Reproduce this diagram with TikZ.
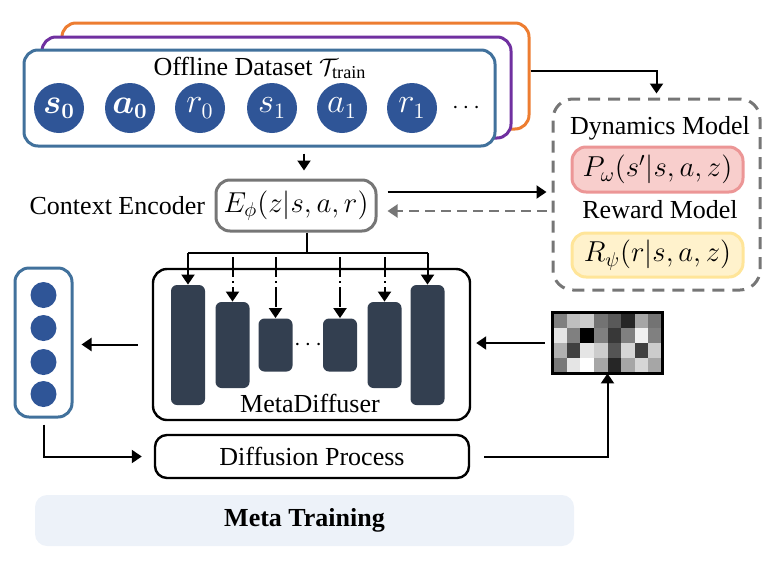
\documentclass[tikz,border=0pt]{standalone}
\usepackage{amsmath,amssymb}
\usepackage{fontspec}
\setmainfont{Liberation Serif}
\usepackage{tikz}
\usetikzlibrary{arrows.meta,positioning,calc}

\definecolor{dsblue}{RGB}{65,113,156}
\definecolor{dspurple}{RGB}{112,48,160}
\definecolor{dsorange}{RGB}{237,125,49}
\definecolor{tokblue}{RGB}{47,85,151}
\definecolor{bardark}{RGB}{51,63,80}
\definecolor{dashgray}{RGB}{118,118,118}
\definecolor{pinkfill}{RGB}{248,206,204}
\definecolor{pinkline}{RGB}{236,150,150}
\definecolor{yellowfill}{RGB}{255,242,204}
\definecolor{yellowline}{RGB}{255,229,153}
\definecolor{metabg}{RGB}{237,242,249}

\tikzset{
  panel/.style={draw, rounded corners=7pt, line width=1.5pt, inner sep=0pt},
  token/.style={circle, fill=tokblue, text=white, minimum size=25pt, inner sep=0pt, font=\fontsize{16pt}{18pt}\selectfont},
  formula/.style={font=\fontsize{14.5pt}{17pt}\selectfont},
  vecdot/.style={circle, fill=tokblue, minimum size=13pt, inner sep=0pt},
  bar/.style={fill=bardark, rounded corners=3pt, minimum width=17pt, inner sep=0pt},
  line/.style={line width=1pt},
  dashdot/.style={line width=1pt, dash pattern=on 10pt off 2pt on 1pt off 2pt},
  >={Triangle[length=5pt,width=6.5pt]}
}

\begin{document}
\begin{tikzpicture}[x=0.5pt,y=-0.5pt,font=\fontsize{13pt}{15pt}\selectfont]
\useasboundingbox (0,0) rectangle (769,562);

% Meta training banner
\node[fill=metabg, rounded corners=6pt, minimum width=269.5pt, minimum height=25.5pt, inner sep=0pt] (meta) at (304.5,520.5) {\textbf{Meta Training}};

% Offline datasets (stacked)
\node[panel, draw=dsorange, fill=white, minimum width=233.5pt, minimum height=53pt] (orange) at (295.5,76) {};
\node[panel, draw=dspurple, fill=white, minimum width=234.5pt, minimum height=50.5pt] (purple) at (276.5,87.5) {};
\node[panel, draw=dsblue, fill=white, minimum width=235.5pt, minimum height=48pt] (ds) at (259.5,98) {};
\node (dstitle) at (260,68) {Offline Dataset $\mathcal{T}_{\text{train}}$};
\foreach \x/\t [count=\i] in {59/{\boldsymbol{s}_{\boldsymbol{0}}}, 130/{\boldsymbol{a}_{\boldsymbol{0}}}, 200/r_0, 272/s_1, 342/a_1, 412/r_1}
    \node[token] (tok\i) at (\x,108) {$\t$};
\node (tokdots) at (468,108) {$\cdots$};

% Context encoder
\node[panel, draw=dashgray, formula, minimum width=80pt, minimum height=25.5pt] (enc) at (296,205.5) {$E_\phi(z|s,a,r)$};
\node[left=4.5pt of enc, inner sep=0pt] (enclabel) {Context Encoder};
\coordinate (dsx) at (304,0);
\draw[line,->,shorten <=3pt,shorten >=4pt] (ds.south -| dsx) -- (enc.north -| dsx);

% Dynamics and reward models
\node[panel, draw=dashgray, dash pattern=on 6pt off 4pt, rounded corners=10pt, minimum width=103.5pt, minimum height=95.5pt] (dyn) at (656.5,194.5) {};
\node (dynlabel) at (660,128) {Dynamics Model};
\node[panel, draw=pinkline, fill=pinkfill, formula, minimum width=85.5pt, minimum height=22.5pt] (pmodel) at (657.5,169.5) {$P_\omega(s'|s,a,z)$};
\node (rewlabel) at (660,210) {Reward Model};
\node[panel, draw=yellowline, fill=yellowfill, formula, minimum width=85.5pt, minimum height=22pt] (rmodel) at (657.5,255) {$R_\psi(r|s,a,z)$};

\draw[line,->,shorten >=2pt] ([yshift=2.5pt]orange.east) -| (dyn.north);
\draw[line,->,shorten <=5pt,shorten >=2.5pt] ([yshift=6.75pt]enc.east) -- ([yshift=6.75pt]enc.east -| dyn.west);
\draw[line,->,draw=dashgray,dash pattern=on 5pt off 3pt,shorten <=2.5pt,shorten >=5pt] ([yshift=-2.75pt]enc.east -| dyn.west) -- ([yshift=-2.75pt]enc.east);

% MetaDiffuser
\node[panel, draw=black, line width=1.2pt, minimum width=158.5pt, minimum height=75.5pt] (md) at (311.5,344.5) {};
\foreach \n/\x/\h in {1/188/120, 2/232.5/86, 3/275.5/53, 4/340/53, 5/384.5/86, 6/427.5/120}
    \node[bar, minimum height=\h*0.5pt] (bar\n) at (\x,345) {};
\node (mddots) at (310,345) {$\cdots$};
\node (mdlabel) at (310,403) {MetaDiffuser};

\coordinate (bus) at (307,253);
\coordinate (busd) at (0,257);
\draw[line] (enc.south -| bus) -- (bus);
\draw[line] (bar1 |- bus) -- (bar6 |- bus);
\foreach \n in {1,6}
    \draw[line,->] (bar\n |- bus) -- (bar\n.north);
\foreach \n in {2,3,4,5}
    \draw[dashdot,->] (bar\n |- busd) -- (bar\n.north);

% Generated parameters
\node[panel, draw=dsblue, minimum width=28.5pt, minimum height=74.5pt] (vec) at (43.5,342.5) {};
\foreach \y [count=\i] in {295,328,362,394}
    \node[vecdot] (v\i) at (43.5,\y) {};

% Noisy input
\node[minimum width=54.5pt, minimum height=30pt, inner sep=0pt] (grid) at (607.5,343) {};
\foreach \vals [count=\r] in {{50,25,20,55,65,85,35,55},{10,50,100,50,78,50,6,50},{31,75,10,20,67,16,75,20},{53,10,0,35,85,35,16,35}}
    \foreach \v [count=\c] in \vals
        \fill[black!\v] ({553+(\c-1)*13.625},{313+(\r-1)*15}) rectangle ++(13.625,15);
\draw[line width=1.2pt] (grid.north west) rectangle (grid.south east);

% Diffusion process
\node[panel, draw=black, line width=1.2pt, rounded corners=6pt, minimum width=157pt, minimum height=21.5pt] (dp) at (312,456.5) {Diffusion Process};

\draw[line,->,shorten <=7pt,shorten >=4pt] (md.west) -- (md.west -| vec.east);
\draw[line,->,shorten <=4pt,shorten >=2.5pt] (grid.west) -- (grid.west -| md.east);
\draw[line,->,shorten <=3pt,shorten >=6pt] (vec.south) |- (dp.west);
\draw[line,->,shorten <=7pt] (dp.east) -| (grid.south);
\end{tikzpicture}
\end{document}
